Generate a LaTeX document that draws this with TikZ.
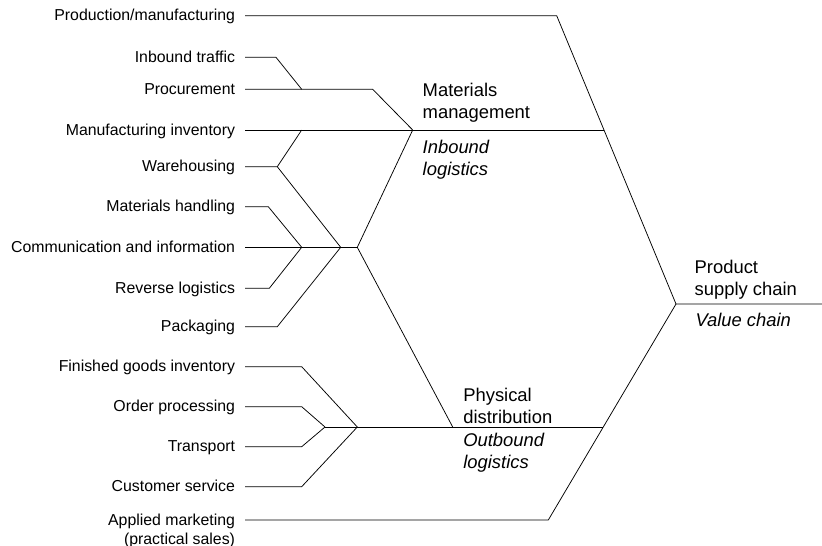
\documentclass[tikz,border=0pt]{standalone}
\usepackage{fontspec}
\setmainfont{Liberation Sans}
\begin{document}
\begin{tikzpicture}[x=1pt,y=-1pt, line width=0.75pt,
  lbl/.style={anchor=east, inner xsep=10pt, inner ysep=0pt, outer sep=0pt,
    text height=10pt, text depth=0pt, font=\fontsize{15.85}{19}\selectfont},
  blk/.style={anchor=base west, inner sep=0pt, outer sep=0pt,
    font=\fontsize{18.4}{22.2}\selectfont},
  blki/.style={blk, font=\fontsize{18.4}{22.2}\selectfont\itshape}]
\useasboundingbox (0,0) rectangle (822,546);
% left labels
\node[lbl] (prod) at (245,15.7) {Production/manufacturing};
\node[lbl] (inb) at (245,57.3) {Inbound traffic};
\node[lbl] (proc) at (245,89.3) {Procurement};
\node[lbl] (mfi) at (245,130) {Manufacturing inventory};
\node[lbl] (wh) at (245,166.7) {Warehousing};
\node[lbl] (mh) at (245,206.7) {Materials handling};
\node[lbl] (ci) at (245,247.3) {Communication and information};
\node[lbl] (rl) at (245,288.3) {Reverse logistics};
\node[lbl] (pk) at (245,326.7) {Packaging};
\node[lbl] (fgi) at (245,366.7) {Finished goods inventory};
\node[lbl] (op) at (245,406.7) {Order processing};
\node[lbl] (tr) at (245,446.7) {Transport};
\node[lbl] (cs) at (245,486.7) {Customer service};
\node[lbl] (am) at (245,520) {\begin{tabular}[t]{@{}r@{}}Applied marketing\\(practical sales)\end{tabular}};
% right blocks
\node[blk] (mm) at (422.7,96) {\begin{tabular}[t]{@{}l@{}}Materials\\management\end{tabular}};
\node[blki] (il) at (422.7,153.3) {\begin{tabular}[t]{@{}l@{}}Inbound\\logistics\end{tabular}};
\node[blk] (pd) at (463.3,401.3) {\begin{tabular}[t]{@{}l@{}}Physical\\distribution\end{tabular}};
\node[blki] (ol) at (463.3,446.6) {\begin{tabular}[t]{@{}l@{}}Outbound\\logistics\end{tabular}};
\node[blk] (psc) at (694.7,273.4) {\begin{tabular}[t]{@{}l@{}}Product\\supply chain\end{tabular}};
\node[blki] (vc) at (695.5,326.8) {Value chain};
% junctions
\coordinate (jP) at (556.7,15.7);
\coordinate (jPSC) at (676,304);
\coordinate (eR) at (822,304);
\coordinate (jMM) at (603.5,130);
\coordinate (jPD) at (603,427);
\coordinate (jAM) at (548.3,520);
\coordinate (jMML) at (412.7,130);
\coordinate (bIT) at (276,57.3);
\coordinate (jIT) at (301.7,89.3);
\coordinate (bPR) at (372.7,89.3);
\coordinate (jMI) at (301.7,130);
\coordinate (bWH) at (277.3,166.7);
\coordinate (bMH) at (268.3,206.7);
\coordinate (jC1) at (301.7,247.3);
\coordinate (jC2) at (340.7,247.3);
\coordinate (jC3) at (357.3,247.3);
\coordinate (bRL) at (269.3,288.3);
\coordinate (bPK) at (277.3,326.7);
\coordinate (bFG) at (301.7,366.7);
\coordinate (bOP) at (301.7,406.7);
\coordinate (bTR) at (301.7,446.7);
\coordinate (bCS) at (301.7,486.7);
\coordinate (jD1) at (325,427);
\coordinate (jD2) at (357.3,427);
\coordinate (jDL) at (452.7,427);
% connectors
\draw (prod.east) -- (jP) -- (jPSC) -- (eR);
\draw (jPSC) -- (jAM) -- (am.east);
\draw (mfi.east) -- (jMM);
\draw (inb.east) -- (bIT) -- (jIT);
\draw (proc.east) -- (bPR) -- (jMML);
\draw (wh.east) -- (bWH) -- (jMI);
\draw (bWH) -- (jC2);
\draw (mh.east) -- (bMH) -- (jC1);
\draw (ci.east) -- (jC3);
\draw (rl.east) -- (bRL) -- (jC1);
\draw (pk.east) -- (bPK) -- (jC2);
\draw (jMML) -- (jC3) -- (jDL);
\draw (fgi.east) -- (bFG) -- (jD2);
\draw (op.east) -- (bOP) -- (jD1);
\draw (tr.east) -- (bTR) -- (jD1);
\draw (cs.east) -- (bCS) -- (jD2);
\draw (jD1) -- (jPD);
\end{tikzpicture}
\end{document}
